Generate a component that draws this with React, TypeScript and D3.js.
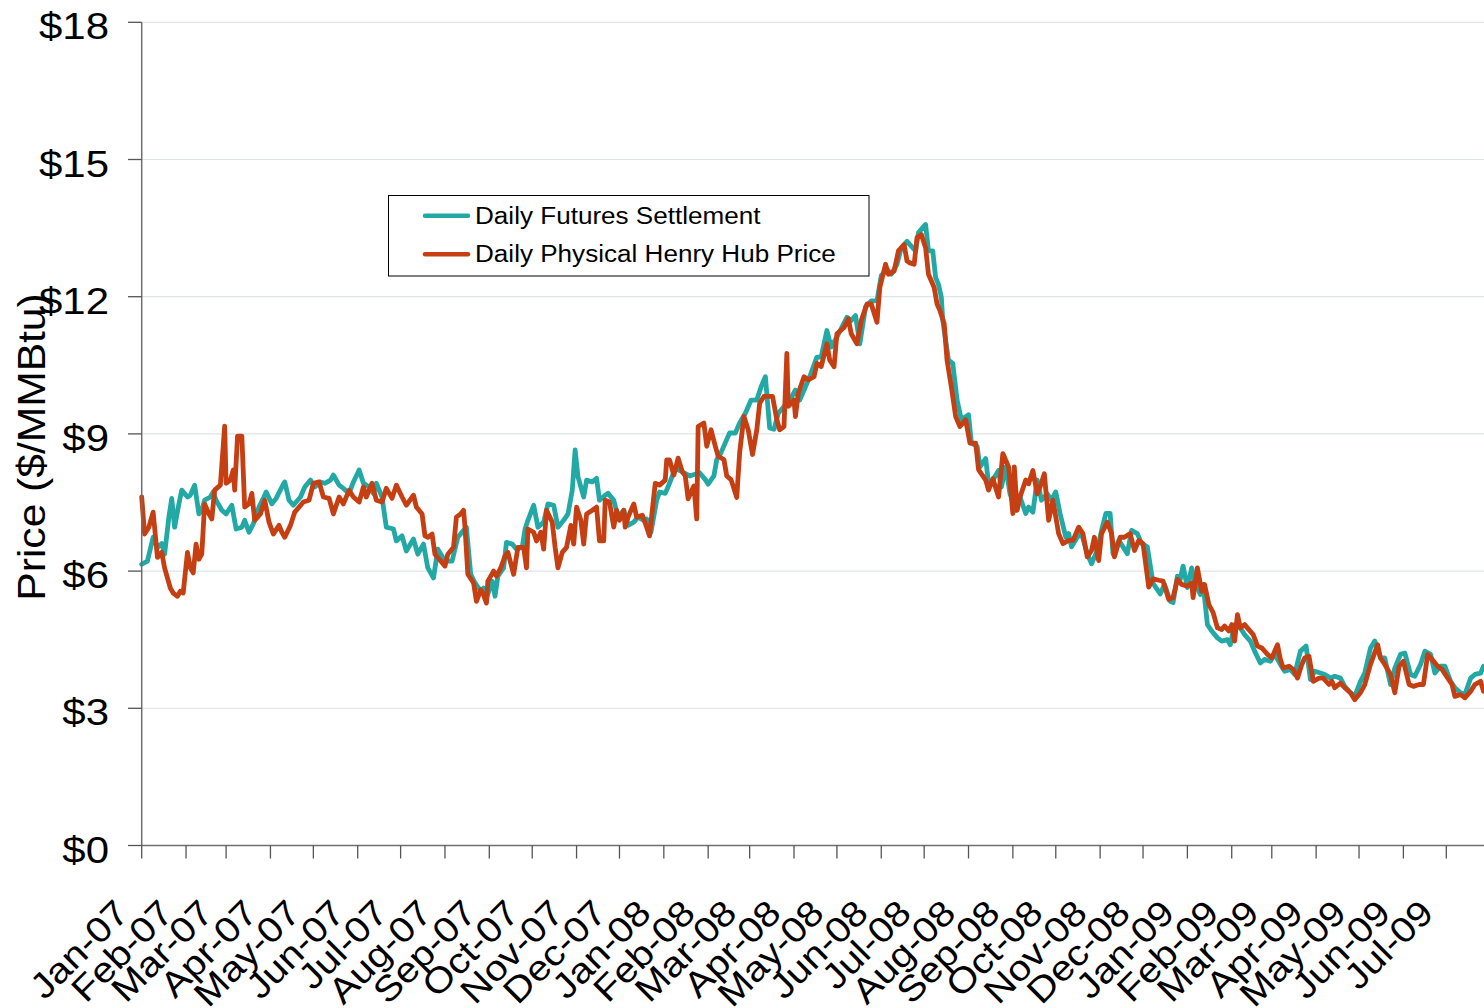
import React from 'react';
import * as d3 from 'd3';

// day offsets are counted from 1 Jan 2007
const futuresDays = [0, 4, 8, 11, 14, 16, 19, 21, 23, 26, 28, 32, 34, 37, 40, 42, 44, 48, 50, 52, 56, 59, 63, 66, 70, 72, 75, 78, 82, 85, 87, 91, 94, 98, 100, 103, 106, 111, 114, 118, 121, 125, 128, 132, 134, 138, 141, 145, 148, 152, 155, 159, 162, 164, 168, 171, 176, 178, 182, 185, 190, 193, 197, 200, 204, 207, 212, 217, 221, 225, 227, 230, 233, 237, 239, 241, 245, 247, 249, 253, 255, 259, 262, 266, 268, 270, 274, 277, 281, 284, 288, 291, 295, 298, 301, 303, 305, 309, 311, 315, 318, 320, 324, 326, 330, 333, 337, 340, 344, 347, 351, 353, 356, 360, 362, 366, 369, 373, 376, 383, 390, 394, 396, 400, 402, 405, 409, 411, 415, 418, 422, 426, 430, 433, 436, 439, 442, 445, 449, 452, 457, 460, 464, 467, 472, 475, 479, 482, 486, 489, 493, 496, 499, 502, 506, 510, 514, 517, 521, 524, 528, 531, 535, 537, 541, 543, 548, 550, 553, 555, 557, 559, 560, 564, 567, 570, 573, 578, 580, 584, 586, 590, 592, 595, 599, 601, 604, 607, 611, 614, 618, 620, 623, 626, 629, 633, 636, 639, 642, 646, 648, 650, 654, 657, 661, 664, 668, 671, 674, 677, 679, 683, 686, 689, 692, 696, 699, 703, 707, 712, 715, 719, 721, 724, 726, 728, 731, 734, 736, 740, 742, 745, 748, 752, 755, 759, 761, 764, 768, 771, 775, 778, 782, 785, 789, 792, 796, 799, 803, 806, 810, 814, 817, 820, 824, 827, 831, 834, 838, 841, 845, 848, 852, 855, 859, 862, 866, 869, 873, 876, 880, 883, 887, 890, 894, 897, 901, 904, 908, 911, 915, 918, 922, 925, 929, 932, 936, 938];
const futuresPrices = [6.15, 6.22, 6.74, 6.52, 6.6, 6.37, 7.18, 7.59, 6.96, 7.47, 7.77, 7.62, 7.66, 7.88, 7.25, 7.33, 7.55, 7.62, 7.73, 7.55, 7.33, 7.25, 7.44, 6.92, 6.96, 7.11, 6.85, 7.03, 7.4, 7.59, 7.73, 7.47, 7.59, 7.84, 7.95, 7.55, 7.44, 7.62, 7.84, 7.99, 7.84, 7.95, 7.92, 7.99, 8.1, 7.88, 7.81, 7.7, 7.95, 8.21, 7.92, 7.84, 7.7, 7.92, 7.62, 6.96, 6.92, 6.66, 6.77, 6.44, 6.7, 6.37, 6.59, 6.07, 5.85, 6.48, 6.22, 6.22, 6.74, 6.89, 6.96, 5.93, 5.74, 5.56, 5.63, 5.41, 5.78, 5.45, 5.89, 6.07, 6.63, 6.59, 6.48, 6.52, 6.92, 7.11, 7.44, 6.96, 7.07, 7.47, 7.44, 6.96, 7.11, 7.25, 7.77, 8.65, 8.06, 7.62, 7.99, 7.95, 8.03, 7.55, 7.66, 7.7, 7.55, 7.18, 7.33, 7.0, 7.07, 7.18, 7.11, 7.14, 6.85, 7.55, 7.73, 7.7, 7.92, 8.25, 8.2, 8.08, 8.15, 8.0, 7.9, 8.08, 8.44, 8.59, 8.88, 9.02, 9.02, 9.24, 9.45, 9.74, 9.74, 10.03, 10.25, 9.13, 9.1, 9.45, 9.6, 9.67, 9.96, 9.74, 10.03, 10.25, 10.68, 10.68, 11.26, 10.9, 11.12, 11.3, 11.55, 11.48, 11.59, 10.97, 11.77, 11.91, 11.91, 12.46, 12.6, 12.49, 12.71, 13.07, 13.21, 13.14, 13.0, 13.4, 13.58, 13.0, 13.0, 12.42, 12.27, 11.99, 11.48, 10.61, 10.54, 9.74, 9.31, 9.42, 8.8, 8.73, 8.28, 8.46, 7.91, 7.99, 8.2, 7.84, 8.28, 7.69, 7.33, 7.62, 7.26, 7.4, 7.29, 7.99, 7.55, 7.69, 7.55, 7.73, 7.26, 6.74, 6.82, 6.53, 6.74, 6.82, 6.38, 6.16, 6.45, 6.89, 7.26, 7.26, 6.38, 6.67, 6.53, 6.38, 6.89, 6.82, 6.6, 6.53, 5.73, 5.5, 5.71, 5.34, 5.31, 5.89, 5.82, 6.11, 5.64, 6.07, 5.78, 5.49, 5.71, 4.83, 4.69, 4.54, 4.47, 4.5, 4.39, 4.83, 4.76, 4.61, 4.47, 4.25, 3.99, 4.07, 4.03, 4.18, 3.96, 3.81, 3.85, 3.74, 4.25, 4.36, 3.63, 3.81, 3.77, 3.74, 3.66, 3.7, 3.66, 3.48, 3.34, 3.26, 3.59, 3.77, 4.32, 4.47, 4.1, 4.1, 3.52, 3.88, 4.18, 4.21, 3.74, 3.7, 3.96, 4.25, 4.18, 3.77, 3.92, 3.92, 3.59, 3.45, 3.34, 3.3, 3.66, 3.74, 3.77, 3.92];

const physicalDays = [0, 2, 5, 8, 11, 14, 16, 20, 22, 25, 27, 29, 32, 34, 36, 38, 40, 42, 44, 47, 49, 51, 55, 58, 59, 62, 64, 65, 67, 70, 72, 75, 77, 79, 83, 86, 89, 92, 96, 98, 100, 104, 107, 110, 113, 117, 120, 124, 127, 131, 134, 138, 141, 145, 148, 152, 155, 157, 161, 164, 168, 171, 175, 178, 182, 185, 190, 192, 196, 198, 200, 203, 205, 209, 212, 214, 218, 220, 223, 225, 226, 228, 232, 234, 237, 239, 241, 242, 246, 248, 251, 254, 256, 260, 263, 267, 269, 270, 274, 276, 279, 281, 283, 287, 289, 291, 294, 297, 300, 302, 304, 307, 309, 311, 315, 318, 320, 323, 324, 327, 330, 332, 334, 337, 338, 340, 344, 346, 350, 353, 355, 359, 362, 366, 367, 369, 372, 375, 378, 380, 382, 386, 388, 389, 393, 395, 398, 401, 403, 407, 409, 412, 416, 418, 421, 424, 427, 430, 432, 435, 438, 441, 444, 446, 449, 451, 452, 456, 457, 459, 463, 466, 470, 472, 475, 479, 481, 484, 486, 491, 494, 496, 500, 503, 507, 510, 514, 516, 520, 522, 526, 529, 533, 535, 537, 540, 542, 545, 548, 550, 554, 556, 558, 561, 563, 566, 569, 572, 576, 579, 583, 585, 590, 592, 595, 599, 602, 606, 609, 610, 612, 614, 618, 620, 623, 626, 628, 631, 634, 637, 641, 644, 648, 651, 655, 658, 661, 664, 666, 669, 671, 675, 678, 680, 684, 687, 691, 694, 697, 700, 704, 707, 711, 714, 718, 721, 724, 727, 731, 734, 735, 738, 741, 743, 746, 749, 752, 755, 757, 760, 762, 764, 766, 768, 771, 774, 777, 780, 783, 787, 790, 794, 796, 798, 802, 805, 808, 811, 813, 816, 819, 823, 826, 830, 832, 834, 838, 841, 845, 848, 852, 855, 859, 864, 866, 869, 873, 876, 879, 882, 886, 889, 893, 896, 899, 902, 906, 909, 913, 916, 918, 922, 925, 929, 932, 936, 938];
const physicalPrices = [7.62, 6.81, 6.96, 7.29, 6.3, 6.41, 6.07, 5.63, 5.52, 5.45, 5.56, 5.52, 6.41, 6.07, 5.96, 6.59, 6.26, 6.37, 7.47, 7.25, 7.14, 7.77, 7.88, 9.17, 7.92, 7.99, 8.21, 7.77, 8.95, 8.95, 7.4, 7.47, 7.7, 7.11, 7.25, 7.55, 7.07, 6.81, 7.0, 6.85, 6.74, 7.0, 7.29, 7.4, 7.51, 7.55, 7.92, 7.95, 7.62, 7.59, 7.25, 7.62, 7.47, 7.77, 7.62, 7.51, 7.84, 7.62, 7.92, 7.55, 7.51, 7.81, 7.59, 7.88, 7.62, 7.44, 7.66, 7.4, 7.25, 6.77, 6.74, 6.81, 6.37, 6.22, 6.11, 6.37, 6.52, 7.18, 7.25, 7.33, 6.96, 5.93, 5.74, 5.34, 5.59, 5.48, 5.3, 5.78, 6.0, 5.89, 6.07, 6.33, 6.41, 5.93, 6.52, 6.52, 6.07, 6.92, 6.85, 6.66, 6.85, 6.48, 7.33, 7.07, 6.52, 6.07, 6.41, 6.52, 7.0, 6.59, 7.4, 7.11, 6.59, 7.25, 7.33, 7.4, 6.66, 6.66, 7.55, 7.51, 6.96, 7.33, 7.11, 7.33, 6.96, 7.18, 7.47, 7.18, 7.22, 6.96, 6.77, 7.92, 7.88, 7.99, 8.43, 8.43, 8.1, 8.47, 8.17, 8.08, 7.58, 7.86, 7.14, 9.16, 9.24, 8.73, 9.09, 8.73, 8.51, 8.44, 8.08, 8.0, 7.61, 8.59, 9.38, 9.09, 8.55, 9.09, 9.67, 9.82, 9.82, 9.82, 9.31, 9.09, 9.16, 10.76, 9.6, 9.74, 9.38, 9.89, 10.25, 10.18, 10.25, 10.54, 10.47, 10.97, 10.61, 10.47, 11.19, 11.33, 11.52, 11.19, 10.97, 11.48, 11.84, 11.84, 11.44, 12.2, 12.71, 12.49, 12.56, 13.0, 13.14, 12.78, 12.74, 12.71, 13.29, 13.36, 13.07, 12.49, 12.2, 11.84, 11.7, 11.41, 10.61, 10.03, 9.38, 9.16, 9.31, 8.8, 8.8, 8.22, 7.99, 7.77, 8.02, 7.62, 8.57, 8.28, 7.26, 8.28, 7.33, 7.62, 7.99, 7.91, 8.2, 7.69, 7.84, 8.13, 7.11, 7.55, 6.82, 6.6, 6.67, 6.67, 6.96, 6.82, 6.31, 6.45, 6.74, 6.23, 6.82, 7.07, 6.82, 6.31, 6.74, 6.74, 6.82, 6.45, 6.67, 6.6, 5.65, 5.83, 5.8, 5.78, 5.38, 5.42, 5.82, 5.71, 5.67, 5.74, 5.42, 6.07, 5.56, 5.71, 5.27, 5.09, 4.76, 4.72, 4.8, 4.69, 4.83, 4.47, 5.05, 4.76, 4.83, 4.72, 4.61, 4.36, 4.32, 4.18, 4.1, 4.39, 4.07, 3.88, 3.92, 3.85, 3.66, 3.96, 4.1, 4.14, 3.59, 3.66, 3.66, 3.52, 3.59, 3.45, 3.55, 3.45, 3.34, 3.19, 3.34, 3.52, 3.96, 4.39, 4.1, 3.96, 3.74, 3.34, 3.92, 4.03, 3.52, 3.48, 3.52, 3.52, 4.18, 4.07, 3.92, 3.85, 3.66, 3.52, 3.26, 3.3, 3.23, 3.37, 3.52, 3.59, 3.37];

const priceTicks = [0, 3, 6, 9, 12, 15, 18];
const monthLabels = ['Jan-07', 'Feb-07', 'Mar-07', 'Apr-07', 'May-07', 'Jun-07', 'Jul-07', 'Aug-07', 'Sep-07', 'Oct-07', 'Nov-07', 'Dec-07',
  'Jan-08', 'Feb-08', 'Mar-08', 'Apr-08', 'May-08', 'Jun-08', 'Jul-08', 'Aug-08', 'Sep-08', 'Oct-08', 'Nov-08', 'Dec-08',
  'Jan-09', 'Feb-09', 'Mar-09', 'Apr-09', 'May-09', 'Jun-09', 'Jul-09'];
const seriesNames = ['Daily Futures Settlement', 'Daily Physical Henry Hub Price'];

const FUT_COLOR = '#22a9a5';
const PHYS_COLOR = '#c53f12';
const FONT = '"Liberation Sans", Arial, sans-serif';
const WIDE = 'scale(1.12,1)'; // the original type is a bit wider than Arial

export default function App() {
  const width = 1484;
  const height = 1008;
  const start = new Date(Date.UTC(2007, 0, 1));

  const x = d3.scaleUtc()
    .domain([start, new Date(Date.UTC(2009, 6, 1))])
    .range([141.7, 1446.3]);
  const y = d3.scaleLinear().domain([0, 18]).range([845.5, 22.3]);

  const toDate = (d: number) => d3.utcDay.offset(start, d);
  const fut = futuresDays.map((d, i) => ({ date: toDate(d), v: futuresPrices[i] }));
  const phys = physicalDays.map((d, i) => ({ date: toDate(d), v: physicalPrices[i] }));

  const line = d3.line<{ date: Date; v: number }>()
    .x(d => x(d.date))
    .y(d => y(d.v));

  const monthTicks = d3.utcMonth.range(start, new Date(Date.UTC(2009, 7, 2)));
  const left = x.range()[0];

  return (
    <svg width={width} height={height} style={{ position: 'absolute', left: 0, top: 0, background: '#fff' }}
      fontFamily={FONT}>
      {/* gridlines */}
      {priceTicks.filter(t => t > 0).map(t => (
        <line key={'g' + t} x1={left} x2={width} y1={y(t)} y2={y(t)} stroke="#dce5ea" strokeWidth={1.2} />
      ))}

      {/* series */}
      <path d={line(fut) || ''} fill="none" stroke={FUT_COLOR} strokeWidth={4.8} strokeLinejoin="round" strokeLinecap="round" />
      <path d={line(phys) || ''} fill="none" stroke={PHYS_COLOR} strokeWidth={4.8} strokeLinejoin="round" strokeLinecap="round" />

      {/* y axis */}
      <line x1={left} x2={left} y1={y(18)} y2={y(0)} stroke="#6f6f6f" strokeWidth={1.5} />
      {priceTicks.map(t => (
        <g key={'y' + t}>
          <line x1={128} x2={left} y1={y(t)} y2={y(t)} stroke="#555" strokeWidth={1.3} />
          <text transform={`translate(109,${y(t) + 17}) ${WIDE}`} textAnchor="end" fontSize={37.5} fill="#000">
            {'$' + t}
          </text>
        </g>
      ))}
      <text transform={`translate(45,447) rotate(-90) ${WIDE}`} textAnchor="middle" fontSize={38} fill="#000">
        Price ($/MMBtu)
      </text>

      {/* x axis */}
      <line x1={left} x2={width} y1={y(0)} y2={y(0)} stroke="#6f6f6f" strokeWidth={1.5} />
      {monthTicks.map((m, i) => (
        <line key={'t' + i} x1={x(m)} x2={x(m)} y1={y(0)} y2={y(0) + 13} stroke="#555" strokeWidth={1.3} />
      ))}
      {monthLabels.map((lab, i) => (
        <text key={lab} transform={`translate(${x(monthTicks[i]) - 11},915) rotate(-45) ${WIDE}`}
          textAnchor="end" fontSize={35.5} fill="#000">
          {lab}
        </text>
      ))}

      {/* legend */}
      <rect x={388.5} y={195.5} width={480.5} height={80.5} fill="#fff" stroke="#000" strokeWidth={1} />
      {seriesNames.map((name, i) => (
        <g key={name}>
          <line x1={425} x2={468} y1={215.7 + i * 38.6} y2={215.7 + i * 38.6}
            stroke={i === 0 ? FUT_COLOR : PHYS_COLOR} strokeWidth={4.5} strokeLinecap="round" />
          <text transform={`translate(475,${224.3 + i * 38}) ${WIDE}`} fontSize={23.3} fill="#000">{name}</text>
        </g>
      ))}
    </svg>
  );
}
